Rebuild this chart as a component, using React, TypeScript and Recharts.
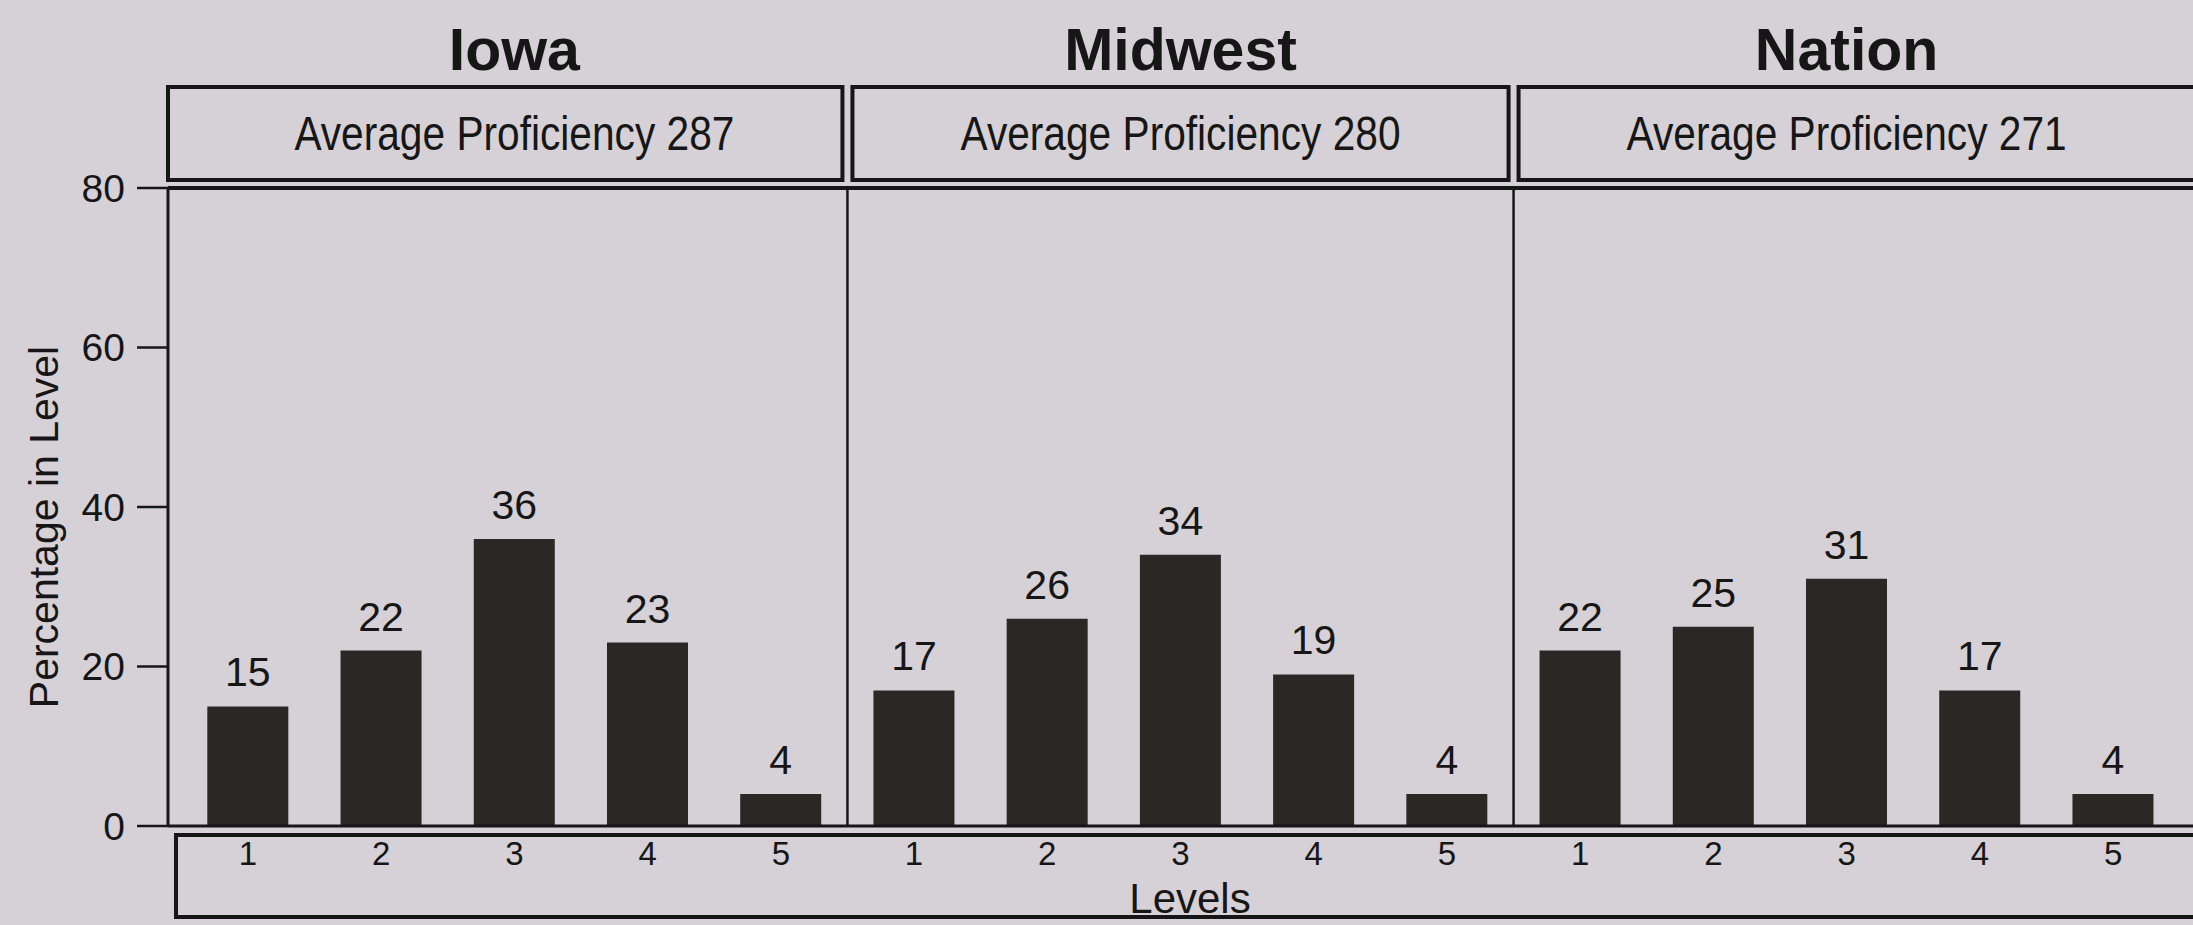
import React from 'react';
import { BarChart, Bar, XAxis, YAxis, ReferenceLine, LabelList } from 'recharts';

const regions = ['Iowa', 'Midwest', 'Nation'];
const avgProficiency = [287, 280, 271];
const levels = ['1', '2', '3', '4', '5'];
const iowa = [15, 22, 36, 23, 4];
const midwest = [17, 26, 34, 19, 4];
const nation = [22, 25, 31, 17, 4];
const yTicks = [0, 20, 40, 60, 80];

const seriesByRegion = [iowa, midwest, nation];

// one row per bar, x runs 1..15 so the three panels share one numeric axis
const data = seriesByRegion.flatMap((vals, i) =>
  vals.map((v, j) => ({ x: i * levels.length + j + 1, level: levels[j], value: v }))
);
const xTicks = data.map(d => d.x);
const dividers = regions.slice(1).map((_, i) => (i + 1) * levels.length + 0.5);

const W = 2193;
const H = 925;
const plotLeft = 168;
const plotTop = 188;
const plotBottom = 826;
const domain: [number, number] = [0.4, 15.6];
const bg = '#d5d1d7';
const ink = '#171616';
const font = '"Liberation Sans", Arial, Helvetica, sans-serif';

const xPx = (v: number) => plotLeft + ((v - domain[0]) / (domain[1] - domain[0])) * (W - plotLeft);

const LevelTick = (props: any) => {
  const { x, y, payload } = props;
  const item = data.find(d => d.x === payload.value);
  return (
    <text x={x} y={y + 39} textAnchor="middle" fontSize={33} fill={ink} fontFamily={font}>
      {item ? item.level : ''}
    </text>
  );
};

const Overlay = () => {
  const boxTop = 87;
  const boxBottom = 180;
  return (
    <svg width={W} height={H} style={{ position: 'absolute', left: 0, top: 0, pointerEvents: 'none' }}>
      {regions.map((r, i) => {
        const left = i === 0 ? plotLeft : xPx(i * levels.length + 0.5) + 5;
        const right = i === regions.length - 1 ? W + 10 : xPx((i + 1) * levels.length + 0.5) - 5;
        const cx = (xPx(i * levels.length + 0.5) + xPx((i + 1) * levels.length + 0.5)) / 2;
        return (
          <g key={r}>
            <text x={cx} y={70} textAnchor="middle" fontSize={59} fontWeight="bold" fill={ink} fontFamily={font}>
              {r}
            </text>
            <rect x={left} y={boxTop} width={right - left} height={boxBottom - boxTop} fill="none" stroke={ink} strokeWidth={4} />
            <text
              x={cx}
              y={(boxTop + boxBottom) / 2 + 16}
              textAnchor="middle"
              fontSize={48}
              fill={ink}
              fontFamily={font}
              textLength={440}
              lengthAdjust="spacingAndGlyphs"
            >
              {`Average Proficiency ${avgProficiency[i]}`}
            </text>
          </g>
        );
      })}
      <rect x={176} y={plotBottom + 9} width={W} height={82} fill="none" stroke={ink} strokeWidth={4} />
      <text x={1190} y={913} textAnchor="middle" fontSize={42} fill={ink} fontFamily={font}>
        Levels
      </text>
      <text
        transform={`translate(58, ${(plotTop + plotBottom) / 2 + 20}) rotate(-90)`}
        textAnchor="middle"
        fontSize={41}
        fill={ink}
        fontFamily={font}
      >
        Percentage in Level
      </text>
    </svg>
  );
};

export default function App() {
  return (
    <div style={{ position: 'absolute', left: 0, top: 0, width: W, height: H, background: bg, overflow: 'hidden' }}>
      <BarChart
        width={W}
        height={H}
        data={data}
        margin={{ top: plotTop, right: 0, bottom: H - plotBottom - 60, left: 0 }}
        barCategoryGap={0}
      >
        <XAxis
          dataKey="x"
          type="number"
          domain={domain}
          ticks={xTicks}
          allowDataOverflow
          height={60}
          tickSize={0}
          tickMargin={0}
          axisLine={false}
          tickLine={false}
          tick={<LevelTick />}
        />
        <YAxis
          type="number"
          domain={[0, 80]}
          ticks={yTicks}
          width={plotLeft}
          tickSize={31}
          tickMargin={12}
          axisLine={{ stroke: ink, strokeWidth: 3 }}
          tickLine={{ stroke: ink, strokeWidth: 2.5 }}
          tick={{ fontSize: 39, fill: ink, fontFamily: font }}
        />
        <ReferenceLine y={80} stroke={ink} strokeWidth={4} />
        <ReferenceLine y={0} stroke={ink} strokeWidth={3} />
        {dividers.map(d => (
          <ReferenceLine key={d} x={d} stroke={ink} strokeWidth={2.5} />
        ))}
        <Bar dataKey="value" fill="#2a2725" barSize={81} isAnimationActive={false}>
          <LabelList
            dataKey="value"
            position="top"
            offset={20}
            fill={ink}
            fontSize={41}
            fontFamily={font}
          />
        </Bar>
      </BarChart>
      <Overlay />
    </div>
  );
}
